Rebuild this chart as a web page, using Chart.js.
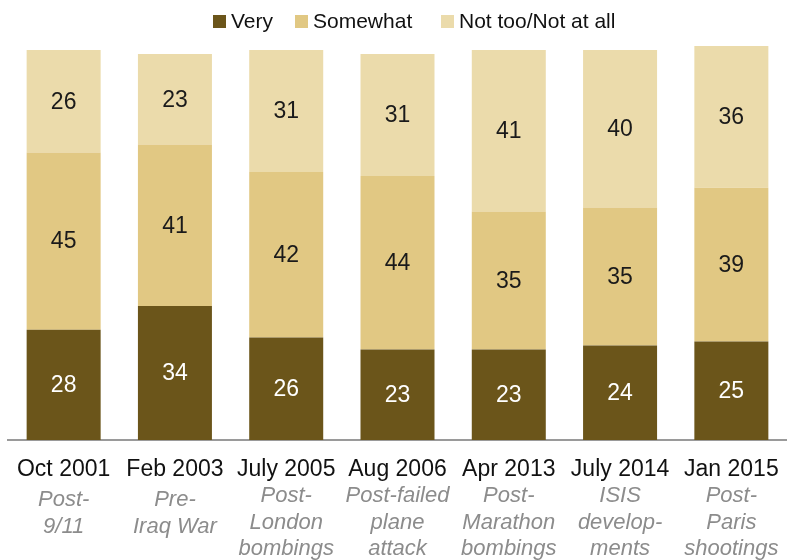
<!DOCTYPE html>
<html>
<head>
<meta charset="utf-8">
<script src="https://cdn.jsdelivr.net/npm/chart.js@4/dist/chart.umd.min.js"></script>
<style>
  html, body { margin: 0; padding: 0; background: #fff; }
  #wrap { width: 787px; height: 560px; position: relative; }
</style>
</head>
<body>
<div id="wrap"><canvas id="c" width="787" height="560"></canvas></div>
<script>
// Survey waves
const categories = ["Oct 2001", "Feb 2003", "July 2005", "Aug 2006", "Apr 2013", "July 2014", "Jan 2015"];
// Event context shown under each wave (one entry per line)
const eventNotes = [
  ["Post-", "9/11"],
  ["Pre-", "Iraq War"],
  ["Post-", "London", "bombings"],
  ["Post-failed", "plane", "attack"],
  ["Post-", "Marathon", "bombings"],
  ["ISIS", "develop-", "ments"],
  ["Post-", "Paris", "shootings"]
];
// Percent in each response group
const veryValues = [28, 34, 26, 23, 23, 24, 25];
const somewhatValues = [45, 41, 42, 44, 35, 35, 39];
const notTooValues = [26, 23, 31, 31, 41, 40, 36];
const seriesNames = ["Very", "Somewhat", "Not too/Not at all"];

const colors = ["#6b551a", "#e1c883", "#ebdbab"];
const labelColors = ["#ffffff", "#1a1a1a", "#1a1a1a"];
const FONT = "'Liberation Sans', Arial, sans-serif";

// Values printed in the middle of each segment
const segmentLabels = {
  id: "segmentLabels",
  afterDatasetsDraw(chart) {
    const ctx = chart.ctx;
    ctx.save();
    ctx.font = "23px " + FONT;
    ctx.textAlign = "center";
    ctx.textBaseline = "middle";
    chart.data.datasets.forEach((ds, di) => {
      const meta = chart.getDatasetMeta(di);
      meta.data.forEach((el, i) => {
        const v = ds.data[i];
        ctx.fillStyle = labelColors[di];
        ctx.fillText(String(v), el.x, (el.y + el.base) / 2 + 1);
      });
    });
    ctx.restore();
  }
};

// Two-tone category labels: date in black, event note in grey italics
const categoryLabels = {
  id: "categoryLabels",
  afterDraw(chart) {
    const ctx = chart.ctx;
    const xs = chart.scales.x;
    ctx.save();
    ctx.textAlign = "center";
    ctx.textBaseline = "middle";
    categories.forEach((cat, i) => {
      const x = xs.getPixelForValue(i);
      ctx.font = "23px " + FONT;
      ctx.fillStyle = "#111111";
      ctx.fillText(cat, x, 470);
      const notes = eventNotes[i];
      const start = notes.length > 2 ? 496 : 500;
      ctx.font = "italic 22px " + FONT;
      ctx.fillStyle = "#8c8c8c";
      notes.forEach((line, j) => {
        ctx.fillText(line, x, start + j * 26.5);
      });
    });
    ctx.restore();
  }
};

// Legend row across the top
const topLegend = {
  id: "topLegend",
  afterDraw(chart) {
    const ctx = chart.ctx;
    const boxX = [213, 295, 441];
    ctx.save();
    ctx.font = "21px " + FONT;
    ctx.textAlign = "left";
    ctx.textBaseline = "middle";
    seriesNames.forEach((name, i) => {
      ctx.fillStyle = colors[i];
      ctx.fillRect(boxX[i], 15, 13, 13);
      ctx.fillStyle = "#111111";
      ctx.fillText(name, boxX[i] + 18, 22);
    });
    ctx.restore();
  }
};

new Chart(document.getElementById("c"), {
  type: "bar",
  data: {
    labels: categories,
    datasets: [
      { label: seriesNames[0], data: veryValues, backgroundColor: colors[0] },
      { label: seriesNames[1], data: somewhatValues, backgroundColor: colors[1] },
      { label: seriesNames[2], data: notTooValues, backgroundColor: colors[2] }
    ]
  },
  options: {
    responsive: false,
    animation: false,
    layout: { padding: { left: 8, right: 0, top: 46, bottom: 120 } },
    datasets: { bar: { categoryPercentage: 1, barPercentage: 0.665, borderWidth: 0 } },
    scales: {
      x: {
        stacked: true,
        grid: { display: false, drawTicks: false },
        ticks: { display: false },
        border: { display: true, color: "#9a9a9a", width: 2 }
      },
      y: {
        stacked: true,
        display: false,
        min: 0,
        max: 100
      }
    },
    plugins: {
      legend: { display: false },
      tooltip: { enabled: false }
    }
  },
  plugins: [segmentLabels, categoryLabels, topLegend]
});
</script>
</body>
</html>
